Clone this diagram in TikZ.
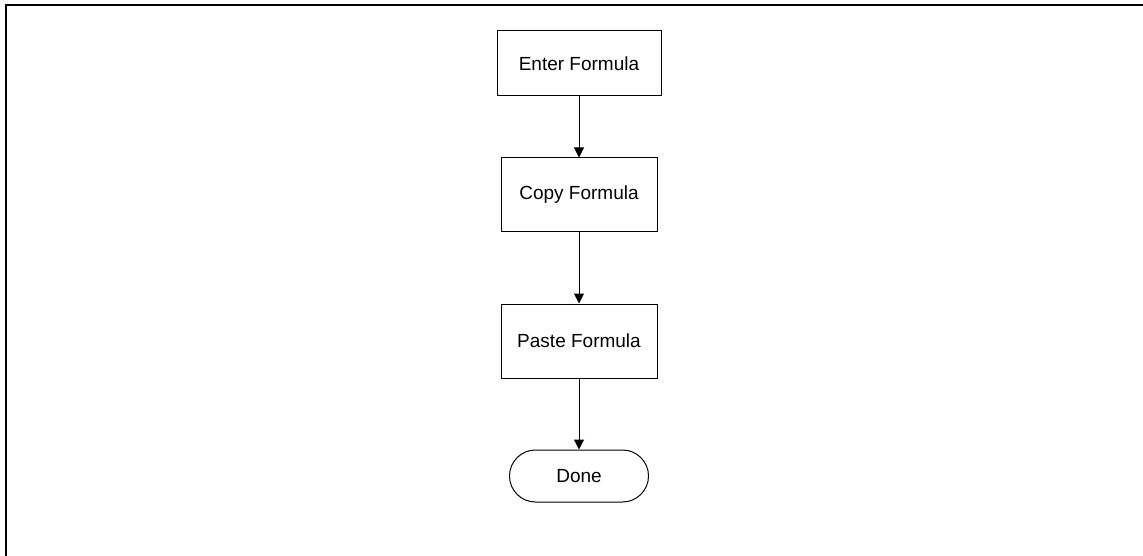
\documentclass[tikz,border=0pt]{standalone}
\usepackage{fontspec}
\setmainfont{Liberation Sans}
\usetikzlibrary{arrows.meta}
\begin{document}
\begin{tikzpicture}[x=1pt,y=-1pt,
  box/.style={draw=black, line width=1pt, inner sep=0pt, font=\fontsize{19}{22}\selectfont},
  arr/.style={draw=black, line width=1pt, -{Triangle[width=10pt,length=10pt]}},
  frameline/.style={draw=black, line width=2.2pt}]
\useasboundingbox (0,0) rectangle (1143,556);
\draw[frameline] (6,556) -- (6,5) -- (1143,5);
\node[box, minimum width=164pt, minimum height=65pt] (enter) at (579,63.5) {Enter Formula};
\node[box, minimum width=156pt, minimum height=74pt] (copy) at (579,195) {Copy Formula};
\node[box, minimum width=156pt, minimum height=74pt] (paste) at (579,341) {Paste Formula};
\node[box, minimum width=139pt, minimum height=52pt, rounded corners=26pt] (done) at (579,476) {Done};
\draw[arr] (enter) -- (copy);
\draw[arr] (copy) -- (paste);
\draw[arr] (paste) -- (done);
\end{tikzpicture}
\end{document}
